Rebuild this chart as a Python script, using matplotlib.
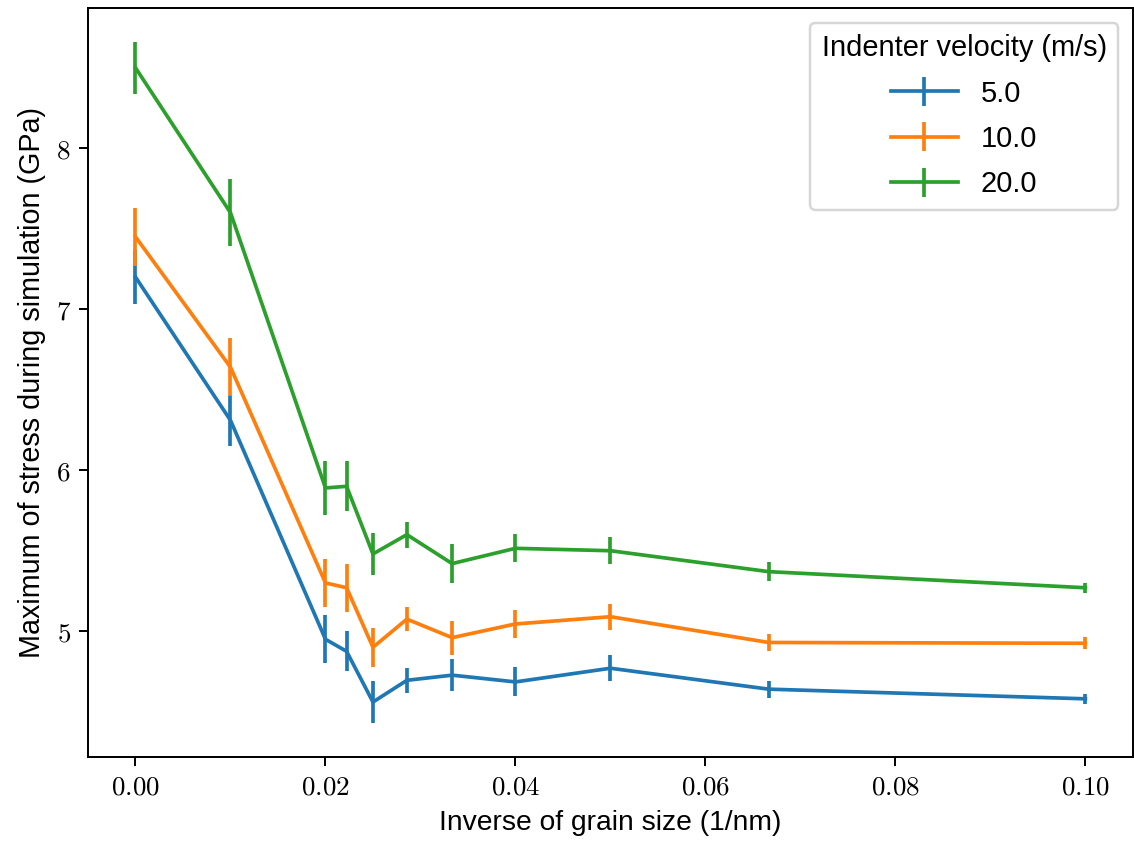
import matplotlib
matplotlib.use("Agg")
import matplotlib.pyplot as plt
from matplotlib.ticker import FuncFormatter

plt.rcParams["font.family"] = ["Liberation Sans", "DejaVu Sans"]
plt.rcParams["mathtext.fontset"] = "cm"

# Inverse grain size (1/nm): bulk, 100, 50, 45, 40, 35, 30, 25, 20, 15, 10 nm
inverse_grain_size = [0.0, 0.01, 0.02, 1 / 45, 0.025, 1 / 35, 1 / 30, 0.04, 0.05, 1 / 15, 0.1]

velocities = ["5.0", "10.0", "20.0"]

stress_v5 = [7.20, 6.31, 4.95, 4.875, 4.56, 4.695, 4.727, 4.685, 4.77, 4.64, 4.58]
err_v5 = [0.17, 0.16, 0.15, 0.125, 0.13, 0.077, 0.10, 0.09, 0.08, 0.052, 0.03]

stress_v10 = [7.45, 6.64, 5.30, 5.27, 4.90, 5.075, 4.96, 5.045, 5.09, 4.93, 4.925]
err_v10 = [0.18, 0.18, 0.15, 0.15, 0.12, 0.075, 0.105, 0.086, 0.08, 0.053, 0.036]

stress_v20 = [8.50, 7.60, 5.89, 5.90, 5.48, 5.60, 5.42, 5.515, 5.50, 5.37, 5.27]
err_v20 = [0.16, 0.21, 0.17, 0.155, 0.13, 0.08, 0.12, 0.087, 0.085, 0.058, 0.03]

dpi = 177
fig, ax = plt.subplots(figsize=(1134 / dpi, 843 / dpi), dpi=dpi)
fig.subplots_adjust(left=0.0776, right=0.999, bottom=0.102, top=0.9905)

for label, stress, err in zip(velocities, [stress_v5, stress_v10, stress_v20],
                              [err_v5, err_v10, err_v20]):
    ax.errorbar(inverse_grain_size, stress, yerr=err, label=label)

ax.set_xticks([0.0, 0.02, 0.04, 0.06, 0.08, 0.10])
ax.set_yticks([5, 6, 7, 8])
ax.xaxis.set_major_formatter(FuncFormatter(lambda v, p: f"${v:.2f}$"))
ax.yaxis.set_major_formatter(FuncFormatter(lambda v, p: f"${v:.0f}$"))
ax.tick_params(labelsize=11)

ax.set_xlabel("Inverse of grain size (1/nm)", fontsize=11.5)
ax.set_ylabel("Maximum of stress during simulation (GPa)", fontsize=11.7)
ax.legend(title="Indenter velocity (m/s)", loc="upper right", fontsize=11.8,
          title_fontsize=11.8, handlelength=2.3, labelspacing=0.6)

plt.savefig("out.png", dpi=dpi)
plt.close()
